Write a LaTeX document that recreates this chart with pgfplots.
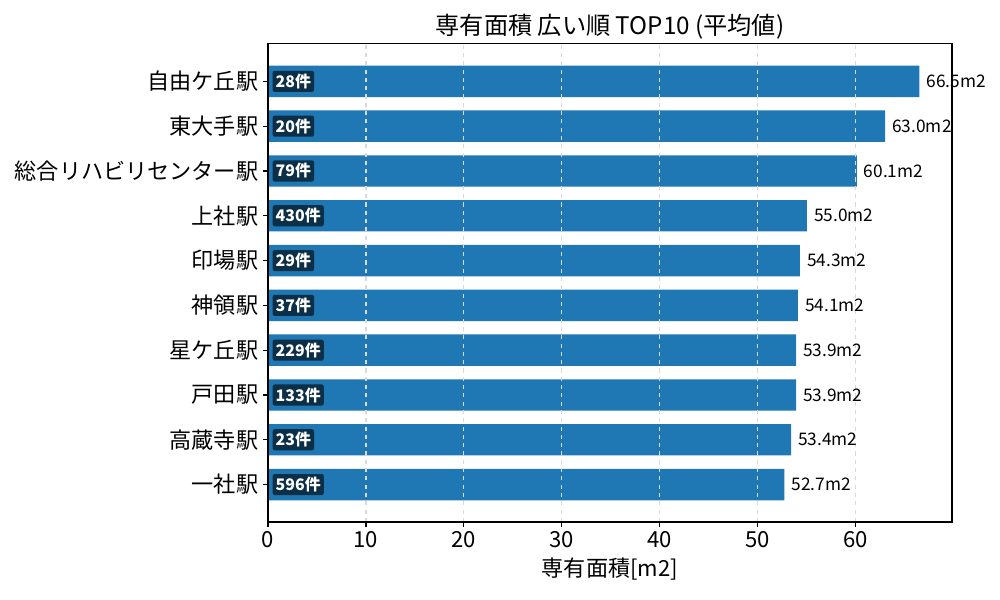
\documentclass[border=0pt]{standalone}
\usepackage{fontspec}
\setmainfont{Noto Sans CJK JP}
\usepackage{pgfplots}
\usepackage{pgfplotstable}
\pgfplotsset{compat=1.18}
\definecolor{barblue}{HTML}{1F77B4}

% area per station, bottom row first
\pgfplotstableread{
y  val   n
0  52.7  596件
1  53.4  23件
2  53.9  133件
3  53.9  229件
4  54.1  37件
5  54.3  29件
6  55.0  430件
7  60.1  79件
8  63.0  20件
9  66.5  28件
}\stations

\begin{document}
\begin{tikzpicture}
\begin{axis}[
    name=ax, at={(0,0)}, anchor=south west,
    scale only axis,
    width=492.5bp, height=344.2bp,
    xmin=0, xmax=69.825,
    ymin=-0.835, ymax=9.835,
    ytick={0,...,9},
    yticklabels={一社駅,高蔵寺駅,戸田駅,星ケ丘駅,神領駅,印場駅,上社駅,総合リハビリセンター駅,東大手駅,自由ケ丘駅},
    xtick={0,10,...,60},
    tick align=outside, tick pos=left,
    major tick length=3.5pt,
    tick style={black, line width=0.8pt},
    axis line style={line width=0.8pt},
    ticklabel style={font=\fontsize{16}{18}\selectfont},
    /pgf/number format/assume math mode=true,
    xmajorgrids,
    major grid style={dashed, gray!30, line width=0.8pt},
    axis on top,
    clip=false,
    title={専有面積 広い順 TOP10 (平均値)},
    title style={font=\fontsize{17.5}{20}\selectfont, yshift=-6pt},
    xlabel={専有面積[m2]},
    xlabel style={font=\fontsize{16}{18}\selectfont, yshift=0pt},
]
\addplot[xbar, bar width=0.7, fill=barblue, draw=none,
    point meta=explicit,
    nodes near coords={\pgfmathprintnumber[fixed,fixed zerofill,precision=1]{\pgfplotspointmeta}m2},
    nodes near coords style={anchor=west, font=\fontsize{12.5}{14}\selectfont, black, inner sep=0pt, xshift=5bp},
] table[x=val, y=y, meta=val] {\stations};
\addplot[only marks, mark=none,
    point meta=explicit symbolic,
    nodes near coords,
    nodes near coords style={anchor=west, font=\fontsize{11.5}{13}\selectfont\bfseries, text=white,
        fill=black, fill opacity=0.6, text opacity=1, rounded corners=1.5pt, inner sep=2.2pt},
] table[x expr=0.45, y=y, meta=n] {\stations};
\end{axis}
\pgfresetboundingbox
\path[use as bounding box] (-192.96bp,-56.16bp) rectangle ++(720bp,432bp);
\end{tikzpicture}
\end{document}
